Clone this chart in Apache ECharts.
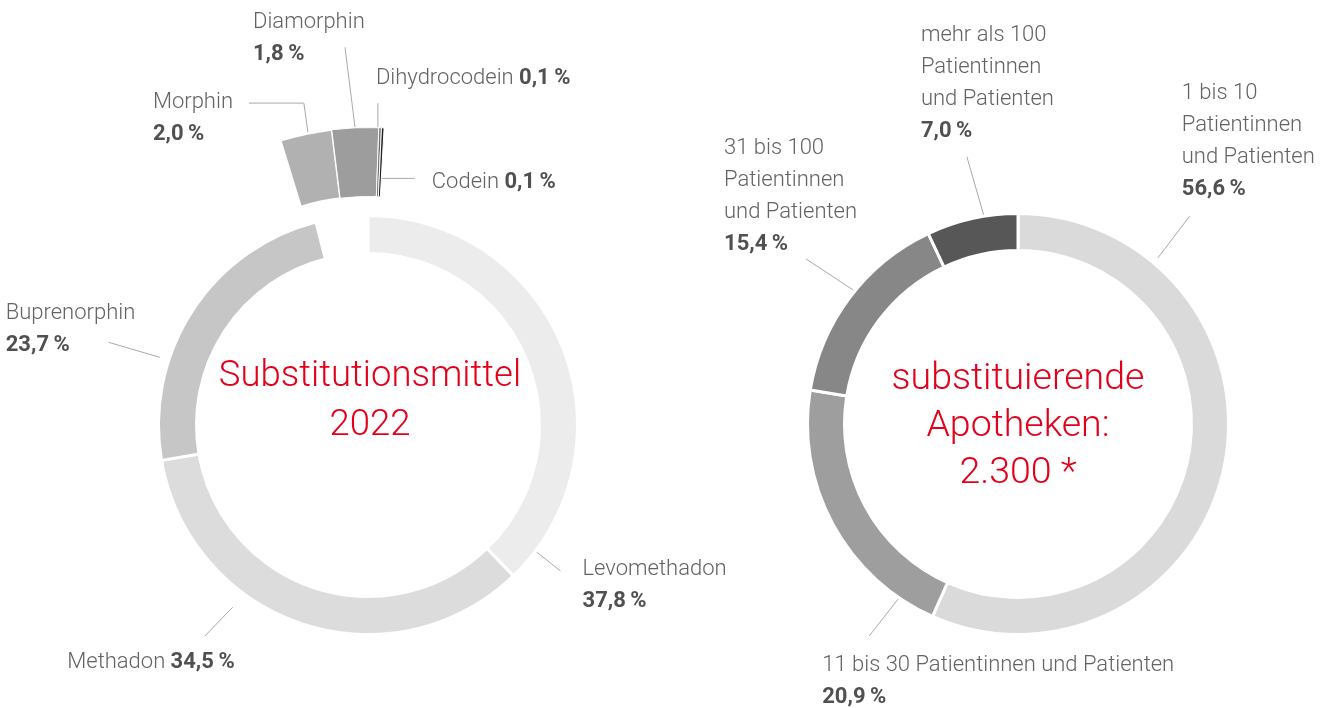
<!DOCTYPE html>
<html>
<head>
<meta charset="utf-8">
<title>Substitution 2022</title>
<script src="https://cdn.jsdelivr.net/npm/echarts@6/dist/echarts.min.js"></script>
<style>
    html, body { margin: 0; padding: 0; background: #fff; }
    #chart { width: 1328px; height: 708px; }
</style>
</head>
<body>
<div id="chart"></div>
<script>
// Substitutionsmittel 2022 (Anteile in %)
var mittelNamen = ['Levomethadon', 'Methadon', 'Buprenorphin', 'Morphin', 'Diamorphin', 'Dihydrocodein', 'Codein'];
var mittelAnteile = [37.8, 34.5, 23.7, 2.0, 1.8, 0.1, 0.1];

// substituierende Apotheken nach Zahl der Patienten (Anteile in %)
var apoNamen = ['1 bis 10\nPatientinnen\nund Patienten', '11 bis 30 Patientinnen und Patienten',
    '31 bis 100\nPatientinnen\nund Patienten', 'mehr als 100\nPatientinnen\nund Patienten'];
var apoAnteile = [56.6, 20.9, 15.4, 7.0];

var mittelFarben = ['#ececec', '#dcdcdc', '#c6c6c6', '#b1b1b1', '#9d9d9d', '#6e6e6e', '#222222'];
var apoFarben = ['#dadada', '#9e9e9e', '#878787', '#575757'];

var links = [368, 425];
var rechts = [1018, 424];

// Beschriftung: Startpunkt [Winkel ab 12 Uhr, Radius], Linienstuecke, Textversatz
var mittelLage = [
    {start: [127, 211], segs: [[24, 19]], text: [22, 15]},
    {start: [216.6, 227], segs: [[-28, 29]], text: [30, 26], align: 'right', inline: true},
    {start: [288, 219], segs: [[-51, -15]], text: [-103, -13]},
    {start: [348.4, 299], segs: [[-4, -29], [-55, 0]], text: [-96, 15]},
    {start: [357.5, 298], segs: [[-10, -80]], text: [-92, -9]},
    {start: [1.9, 298], segs: [[0, -24]], text: [-2, -25], inline: true},
    {start: [3.2, 247], segs: [[33, 0]], text: [17, 4], inline: true}
];
var apoLage = [
    {start: [40.1, 217], segs: [[32, -42]], text: [-8, -74.5]},
    {start: [214.4, 212], segs: [[-29, 37]], text: [-47, 45.5]},
    {start: [309.1, 212.6], segs: [[-47, -31]], text: [-82, -62.5]},
    {start: [350.7, 211], segs: [[-17, -59]], text: [-46, -73]}
];

function prozent(v) {
    return v.toFixed(1).replace('.', ',') + '\u2009%';
}

function etikett(name, wert, inline) {
    var zeilen = name.split('\n').map(function (z) { return '{n|' + z + '}'; });
    return zeilen.join('\n') + (inline ? '{n| }' : '\n') + '{v|' + prozent(wert) + '}';
}

function polar(c, winkel, r) {
    var a = winkel * Math.PI / 180;
    return [c[0] + r * Math.sin(a), c[1] - r * Math.cos(a)];
}

function lageFn(c, lage) {
    return function (params) {
        var l = lage[params.dataIndex];
        if (!l) return;
        var pts = [polar(c, l.start[0], l.start[1])];
        l.segs.forEach(function (s) {
            var p = pts[pts.length - 1];
            pts.push([p[0] + s[0], p[1] + s[1]]);
        });
        var end = pts[pts.length - 1];
        if (pts.length < 3) pts.push(end.slice());
        return {
            x: end[0] + l.text[0],
            y: end[1] + l.text[1],
            align: l.align || 'left',
            verticalAlign: 'middle',
            labelLinePoints: pts
        };
    };
}

var labelStil = {
    show: true,
    position: 'outside',
    rich: {
        n: {fontFamily: 'Roboto', fontWeight: 300, fontSize: 22, lineHeight: 32, color: '#636363'},
        v: {fontFamily: 'Roboto', fontWeight: 'bold', fontSize: 22, lineHeight: 32, color: '#505050'}
    }
};
var linieStil = {show: true, length: 10, length2: 10, lineStyle: {color: '#aaaaaa', width: 1}};

// Hauptring: kleine Anteile bleiben hier leer und stehen im aeusseren Ring
var mittelHaupt = mittelNamen.map(function (name, i) {
    var klein = i > 2;
    return {
        name: name,
        value: mittelAnteile[i],
        itemStyle: klein ? {color: 'rgba(0,0,0,0)', borderWidth: 0} : {color: mittelFarben[i]},
        label: klein ? {show: false} : {formatter: etikett(name, mittelAnteile[i], mittelLage[i].inline)},
        labelLine: klein ? {show: false} : undefined
    };
});
var mittelKlein = mittelNamen.slice(3).map(function (name, k) {
    var i = k + 3;
    return {
        name: name,
        value: mittelAnteile[i],
        itemStyle: {color: mittelFarben[i], borderWidth: i === 3 ? 2 : 1},
        label: {formatter: etikett(name, mittelAnteile[i], mittelLage[i].inline)}
    };
});
var apoDaten = apoNamen.map(function (name, i) {
    return {
        name: name,
        value: apoAnteile[i],
        itemStyle: {color: apoFarben[i]},
        label: {formatter: etikett(name, apoAnteile[i], apoLage[i].inline)}
    };
});

var myChart = echarts.init(document.getElementById('chart'), null, {renderer: 'canvas'});

var option = {
    backgroundColor: '#ffffff',
    animation: false,
    graphic: [
        {
            type: 'text', x: links[0] + 2, y: 401,
            style: {
                text: 'Substitutionsmittel\n2022', fontFamily: 'Roboto', fontWeight: 300, fontSize: 36.5,
                lineHeight: 49, fill: '#e3001b', align: 'center', verticalAlign: 'middle'
            }
        },
        {
            type: 'text', x: rechts[0], y: 427,
            style: {
                text: 'substituierende\nApotheken:\n2.300 *', fontFamily: 'Roboto', fontWeight: 300, fontSize: 37.5,
                lineHeight: 47, fill: '#e3001b', align: 'center', verticalAlign: 'middle'
            }
        }
    ],
    series: [
        {
            name: 'Substitutionsmittel',
            type: 'pie',
            center: links,
            radius: [171.5, 209.5],
            startAngle: 90,
            clockwise: true,
            avoidLabelOverlap: false,
            silent: true,
            itemStyle: {borderColor: '#ffffff', borderWidth: 3},
            label: labelStil,
            labelLine: linieStil,
            labelLayout: lageFn(links, mittelLage),
            data: mittelHaupt
        },
        {
            name: 'Substitutionsmittel klein',
            type: 'pie',
            center: links,
            radius: [228.5, 297.5],
            startAngle: 107.1,
            endAngle: 86.9,
            clockwise: true,
            avoidLabelOverlap: false,
            silent: true,
            itemStyle: {borderColor: '#ffffff'},
            label: labelStil,
            labelLine: linieStil,
            labelLayout: lageFn(links, mittelLage.slice(3)),
            data: mittelKlein
        },
        {
            name: 'Apotheken',
            type: 'pie',
            center: rechts,
            radius: [173.5, 210.5],
            startAngle: 90,
            clockwise: true,
            avoidLabelOverlap: false,
            silent: true,
            itemStyle: {borderColor: '#ffffff', borderWidth: 3},
            label: labelStil,
            labelLine: linieStil,
            labelLayout: lageFn(rechts, apoLage),
            data: apoDaten
        }
    ]
};

myChart.setOption(option);
</script>
</body>
</html>
